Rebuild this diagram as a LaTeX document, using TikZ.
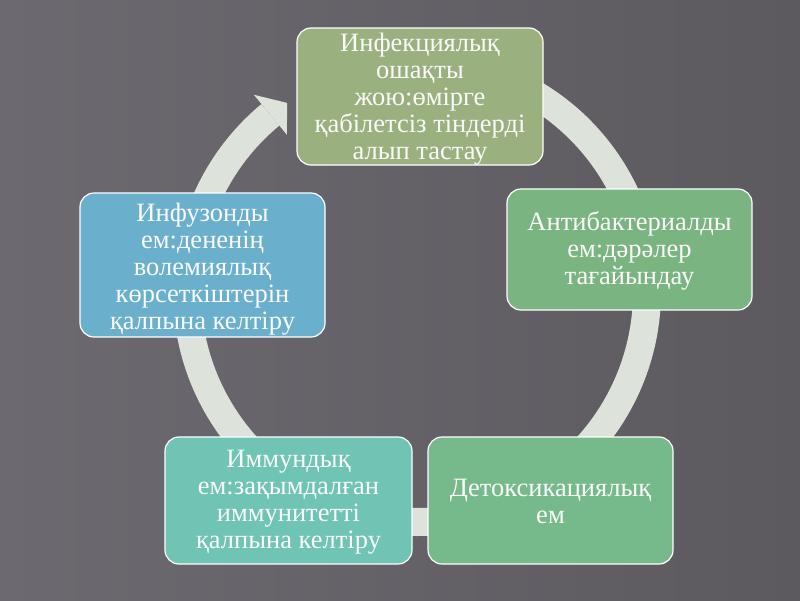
\documentclass[tikz,border=0pt]{standalone}
\usepackage{fontspec}
\setmainfont{Liberation Serif}
\definecolor{bgA}{HTML}{6C6A70}
\definecolor{bgB}{HTML}{9A98A0}
\definecolor{bgC}{HTML}{5C5A5F}
\definecolor{bandc}{HTML}{DDE3DB}
\definecolor{olivebox}{HTML}{9BB07F}
\definecolor{greenbox}{HTML}{7AB480}
\definecolor{mintbox}{HTML}{76BA8C}
\definecolor{tealbox}{HTML}{6FC4B4}
\definecolor{bluebox}{HTML}{6AB0CC}
\begin{document}
\begin{tikzpicture}[x=1pt,y=-1pt,
  cyclebox/.style={draw=white, line width=1.2pt, rounded corners=14pt, inner sep=0pt},
  boxtext/.style={text=white!96!gray, align=center, inner sep=0pt,
    font=\fontsize{26.5}{27}\selectfont},
  band/.style={draw=bandc, line width=28pt}]
\useasboundingbox (0,0) rectangle (800,600);
\shade[shading angle=45, left color=bgA, middle color=bgB, right color=bgC] (0,0) rectangle (800,600);
% circular arrow
\draw[band] plot[domain=-230.4:105, samples=240] ({417+230*cos(\x)}, {292-230*sin(\x)});
\fill[bandc] ({417+256*cos(129.6)},{292-256*sin(129.6)})
  -- ({417+229.5*cos(124.5)},{292-229.5*sin(124.5)})
  -- ({417+204*cos(129.6)},{292-204*sin(129.6)}) -- cycle;
% boxes
\node[cyclebox, fill=olivebox, minimum width=246pt, minimum height=137pt] (b1) at (420,96.5) {};
\node[cyclebox, fill=greenbox, minimum width=245pt, minimum height=121pt] (b2) at (629.5,249.5) {};
\node[cyclebox, fill=mintbox, minimum width=245pt, minimum height=127pt] (b3) at (550.5,500.5) {};
\node[cyclebox, fill=tealbox, minimum width=247pt, minimum height=127pt] (b4) at (288.5,500.5) {};
\node[cyclebox, fill=bluebox, minimum width=245pt, minimum height=144pt] (b5) at (202.5,265) {};
% texts
\node[boxtext] (t1) at ([yshift=-3pt]b1.center)
  {Инфекциялық\\ошақты\\жою:өмірге\\қабілетсіз тіндерді\\алып тастау};
\node[boxtext] (t2) at ([yshift=-1pt]b2.center)
  {Антибактериалды\\ем:дәрәлер\\тағайындау};
\node[boxtext] (t3) at ([yshift=-1pt]b3.center)
  {Детоксикациялық\\ем};
\node[boxtext] (t4) at ([yshift=-2pt]b4.center)
  {Иммундық\\ем:зақымдалған\\иммунитетті\\қалпына келтіру};
\node[boxtext] (t5) at ([yshift=-4pt]b5.center)
  {Инфузонды\\ем:дененің\\волемиялық\\көрсеткіштерін\\қалпына келтіру};
\end{tikzpicture}
\end{document}
